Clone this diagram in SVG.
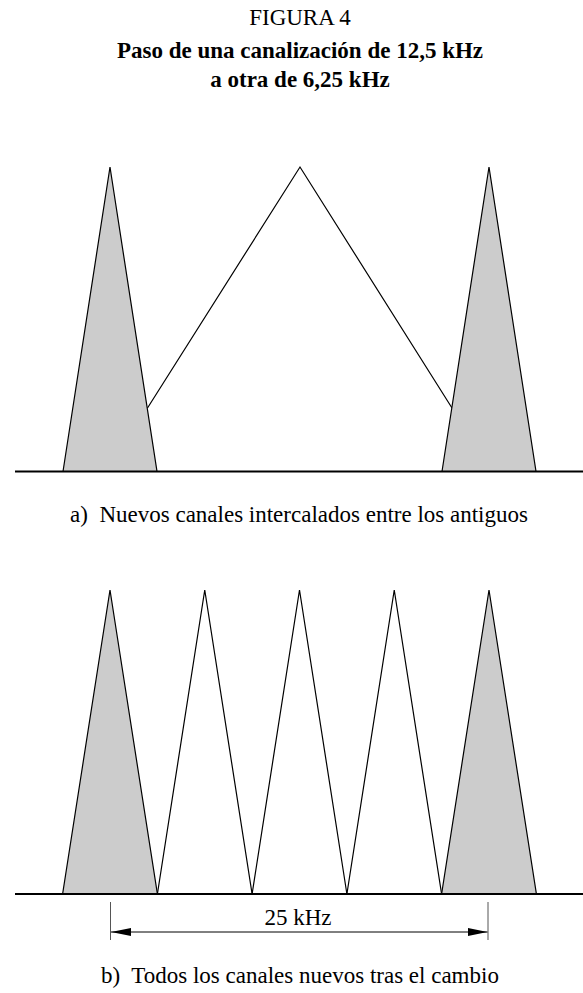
<svg xmlns="http://www.w3.org/2000/svg" width="583" height="993" viewBox="0 0 583 993">
<style>
.t{font-family:"Liberation Serif","Times New Roman",serif;fill:#000;text-anchor:middle}
.r{font-size:23px}
.b{font-size:23px;font-weight:bold}
.g{fill:#cccccc;stroke:#000;stroke-width:1.2;stroke-linejoin:miter}
.w{fill:none;stroke:#000;stroke-width:1.2}
.base{stroke:#000;stroke-width:2.2}
</style>
<defs>
<marker id="ah" viewBox="0 0 20 8" refX="20" refY="4" markerWidth="20" markerHeight="8" markerUnits="userSpaceOnUse" orient="auto-start-reverse">
<path d="M0,0 L20,4 L0,8 Z" fill="#000"/>
</marker>
</defs>
<g id="title">
<text class="t r" x="300" y="25">FIGURA 4</text>
<text class="t b" x="300" y="58">Paso de una canalización de 12,5 kHz</text>
<text class="t b" x="300" y="87">a otra de 6,25 kHz</text>
</g>
<g id="panel-a">
<g id="a-old-center"><polyline class="w" points="147.5,408 300,167 452,408"/></g>
<g id="a-left"><polygon class="g" points="63,471.5 110,167 157,471.5"/></g>
<g id="a-right"><polygon class="g" points="442,471.5 489,167 536,471.5"/></g>
<line class="base" x1="15" y1="471.5" x2="583" y2="471.5"/>
<text class="t r" x="299" y="522" xml:space="preserve">a)  Nuevos canales intercalados entre los antiguos</text>
</g>
<g id="panel-b">
<g id="b-1"><polygon class="g" points="62.6,894 110,590 157.4,894"/></g>
<g id="b-2"><polyline class="w" points="157.4,894 204.75,590 252.1,894"/></g>
<g id="b-3"><polyline class="w" points="252.1,894 299.5,590 346.9,894"/></g>
<g id="b-4"><polyline class="w" points="346.9,894 394.25,590 441.6,894"/></g>
<g id="b-5"><polygon class="g" points="441.6,894 489,590 536.4,894"/></g>
<line class="base" x1="15" y1="894" x2="583" y2="894"/>
<text class="t r" x="300" y="983" xml:space="preserve">b)  Todos los canales nuevos tras el cambio</text>
</g>
<g id="connectors">
<line x1="110.5" y1="902" x2="110.5" y2="940" stroke="#555" stroke-width="1"/>
<line x1="488" y1="902" x2="488" y2="940" stroke="#555" stroke-width="1"/>
<line x1="111" y1="932" x2="487.5" y2="932" stroke="#000" stroke-width="1" marker-start="url(#ah)" marker-end="url(#ah)"/>
<text class="t r" x="298" y="925">25 kHz</text>
</g>
</svg>
